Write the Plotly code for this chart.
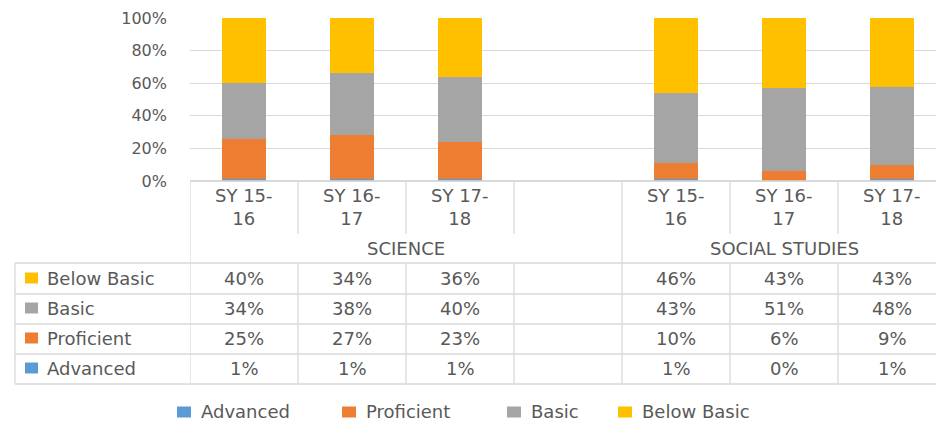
import plotly.graph_objects as go

# ---------------- data ----------------
groups = ["SCIENCE", "SCIENCE", "SCIENCE", "SCIENCE", "SOCIAL STUDIES", "SOCIAL STUDIES", "SOCIAL STUDIES"]
tick_labels = ["SY 15-<br>16", "SY 16-<br>17", "SY 17-<br>18", "", "SY 15-<br>16", "SY 16-<br>17", "SY 17-<br>18"]
series_names = ["Advanced", "Proficient", "Basic", "Below Basic"]
advanced = [1, 1, 1, None, 1, 0, 1]
proficient = [25, 27, 23, None, 10, 6, 9]
basic = [34, 38, 40, None, 43, 51, 48]
below_basic = [40, 34, 36, None, 46, 43, 43]
y_tick_vals = [0, 20, 40, 60, 80, 100]
y_tick_text = ["0%", "20%", "40%", "60%", "80%", "100%"]

colors = ["#5B9BD5", "#ED7D31", "#A5A5A5", "#FFC000"]
series_values = [advanced, proficient, basic, below_basic]

# page body has an 8px margin; figure is sized so the visible window is 944x422
OFF = 8
W, H = 944 - OFF, 422 - OFF
TXT = "#595959"
GRID = "#D9D9D9"
FONT = "DejaVu Sans"


def X(px):  # window pixel x -> paper
    return (px - OFF) / W


def Y(py):  # window pixel y -> paper
    return (H - (py - OFF)) / H


x_idx = list(range(len(tick_labels)))

fig = go.Figure()
for name, vals, col in zip(series_names, series_values, colors):
    fig.add_trace(go.Bar(x=x_idx, y=vals, name=name, marker_color=col,
                         marker_line_width=0, width=0.41, showlegend=False))

# plot area geometry
x_left_pix = 190
col_w = 108
x_dom0 = X(x_left_pix)
x_range = [-0.5, -0.5 + (944 - x_left_pix) / col_w]

fig.update_layout(
    width=W, height=H,
    margin=dict(l=0, r=0, t=0, b=0, autoexpand=False),
    paper_bgcolor="white", plot_bgcolor="white",
    barmode="stack", barnorm="percent",
    font=dict(family=FONT, size=16, color=TXT),
    xaxis=dict(domain=[x_dom0, 1], range=x_range, showticklabels=False,
               showgrid=False, zeroline=False, showline=False, fixedrange=True),
    yaxis=dict(domain=[Y(181), Y(18)], range=[0, 100], tickvals=y_tick_vals,
               ticktext=y_tick_text, showgrid=True, gridcolor=GRID, gridwidth=1,
               zeroline=True, zerolinecolor=GRID, showline=False,
               ticklabelstandoff=22, tickfont=dict(family=FONT, size=16, color=TXT)),
    showlegend=False,
)

shapes = []


def hline(ypix, x0p=X(15), x1p=1.0):
    shapes.append(dict(type="line", xref="paper", yref="paper", x0=x0p, x1=x1p,
                       y0=Y(ypix), y1=Y(ypix), line=dict(color=GRID, width=1.3)))


def vline(xv, y0pix, y1pix, xref="x"):
    shapes.append(dict(type="line", xref=xref, yref="paper", x0=xv, x1=xv,
                       y0=Y(y0pix), y1=Y(y1pix), line=dict(color=GRID, width=1.3)))


hline(181, x0p=x_dom0)
for yy in [263, 294, 324, 354, 384]:
    hline(yy)

n = len(tick_labels)
for k in range(n):
    b = k - 0.5
    if k == 0 or groups[k] != groups[k - 1]:
        vline(b, 181, 384)
    else:
        vline(b, 181, 234)
        vline(b, 263, 384)
vline(X(15), 263, 384, xref="paper")

annotations = []
TF = dict(family=FONT, size=18, color=TXT)
# category tick labels
for k, lab in enumerate(tick_labels):
    if lab:
        annotations.append(dict(x=k, y=Y(207), xref="x", yref="paper", text=lab,
                                showarrow=False, font=TF,
                                xanchor="center", yanchor="middle", align="center"))
# group labels
seen = []
for g in groups:
    if g not in seen:
        seen.append(g)
for g in seen:
    ks = [k for k, gg in enumerate(groups) if gg == g]
    xc = (ks[0] + ks[-1]) / 2
    annotations.append(dict(x=xc, y=Y(248), xref="x", yref="paper", text=g,
                            showarrow=False, font=TF, xanchor="center", yanchor="middle"))

# data table rows (reverse order: Below Basic first)
row_centers = [278, 308, 338, 368]
for r, si in enumerate(reversed(range(len(series_names)))):
    yc = row_centers[r]
    shapes.append(dict(type="rect", xref="paper", yref="paper",
                       x0=X(25), x1=X(38), y0=Y(yc + 5.5), y1=Y(yc - 5.5),
                       fillcolor=colors[si], line=dict(width=0)))
    annotations.append(dict(x=X(45), y=Y(yc), xref="paper", yref="paper",
                            text=series_names[si], showarrow=False, xanchor="left",
                            yanchor="middle", font=TF))
    for k, v in enumerate(series_values[si]):
        if v is None:
            continue
        annotations.append(dict(x=k, y=Y(yc), xref="x", yref="paper", text=f"{v}%",
                                showarrow=False, xanchor="center", yanchor="middle", font=TF))

# legend (bottom)
leg_sq_left = [177, 342, 507, 618]
leg_y = 412
for i, name in enumerate(series_names):
    x0 = leg_sq_left[i]
    shapes.append(dict(type="rect", xref="paper", yref="paper",
                       x0=X(x0), x1=X(x0 + 14), y0=Y(leg_y + 5.5), y1=Y(leg_y - 5.5),
                       fillcolor=colors[i], line=dict(width=0)))
    annotations.append(dict(x=X(x0 + 22), y=Y(leg_y - 1), xref="paper", yref="paper",
                            text=name, showarrow=False, xanchor="left", yanchor="middle",
                            font=TF))

fig.update_layout(shapes=shapes, annotations=annotations)
fig.write_html("out.html")
